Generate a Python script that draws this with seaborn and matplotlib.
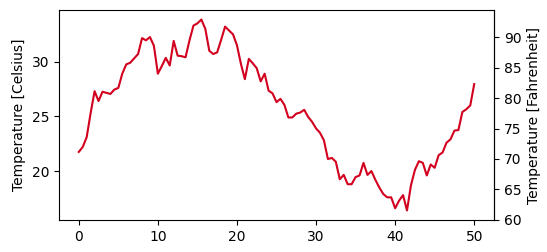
import numpy as np
import pandas as pd
import matplotlib
matplotlib.use("Agg")
import matplotlib.pyplot as plt
import seaborn as sns

# x positions (step 0.5 from 0 to 50) and temperatures in Celsius
x_start, x_stop, x_step = 0.0, 50.0, 0.5
celsius = [
    21.75, 22.2, 23.1, 25.3, 27.3, 26.4, 27.25, 27.15, 27.05, 27.45,
    27.6, 28.9, 29.75, 29.9, 30.3, 30.7, 32.15, 31.95, 32.25, 31.45,
    28.9, 29.6, 30.35, 29.65, 31.9, 30.55, 30.5, 30.4, 31.95, 33.3,
    33.5, 33.85, 33.0, 31.0, 30.7, 30.85, 32.0, 33.2, 32.85, 32.5,
    31.5, 29.8, 28.4, 30.25, 29.85, 29.4, 28.2, 28.9, 27.35, 27.1,
    26.3, 26.6, 26.05, 24.9, 24.9, 25.25, 25.35, 25.6, 24.95, 24.5,
    23.9, 23.5, 22.8, 21.1, 21.2, 20.85, 19.25, 19.65, 18.8, 18.8,
    19.45, 19.6, 20.75, 19.65, 20.0, 19.2, 18.5, 17.9, 17.6, 17.6,
    16.6, 17.3, 17.8, 16.4, 18.7, 20.1, 20.9, 20.75, 19.6, 20.6,
    20.3, 21.45, 21.7, 22.6, 22.9, 23.7, 23.75, 25.4, 25.65, 26.0,
    27.95,
]
x_values = np.arange(len(celsius)) * x_step + x_start

left_label = "Temperature [Celsius]"
right_label = "Temperature [Fahrenheit]"
line_color = "#d2001e"

df = pd.DataFrame({"x": x_values, "celsius": celsius})

plt.rcParams["font.family"] = ["DejaVu Sans"]
fig = plt.figure(figsize=(5.47, 2.52), dpi=100)
ax = fig.add_axes([59 / 547, 1 - 220 / 252, (494 - 59) / 547, (220 - 10) / 252])

sns.lineplot(data=df, x="x", y="celsius", ax=ax, color=line_color, linewidth=1.5)
ax.set_xlabel("")
ax.set_ylabel(left_label, fontsize=10)
ax.set_xticks([0, 10, 20, 30, 40, 50])
ax.set_yticks([20, 25, 30])


def c2f(c):
    return np.asarray(c) * 9.0 / 5.0 + 32.0


def f2c(f):
    return (np.asarray(f) - 32.0) * 5.0 / 9.0


sec = ax.secondary_yaxis("right", functions=(c2f, f2c))
sec.set_ylabel(right_label, fontsize=10)
sec.set_yticks([60, 65, 70, 75, 80, 85, 90])

fig.savefig("out.png", dpi=100)
